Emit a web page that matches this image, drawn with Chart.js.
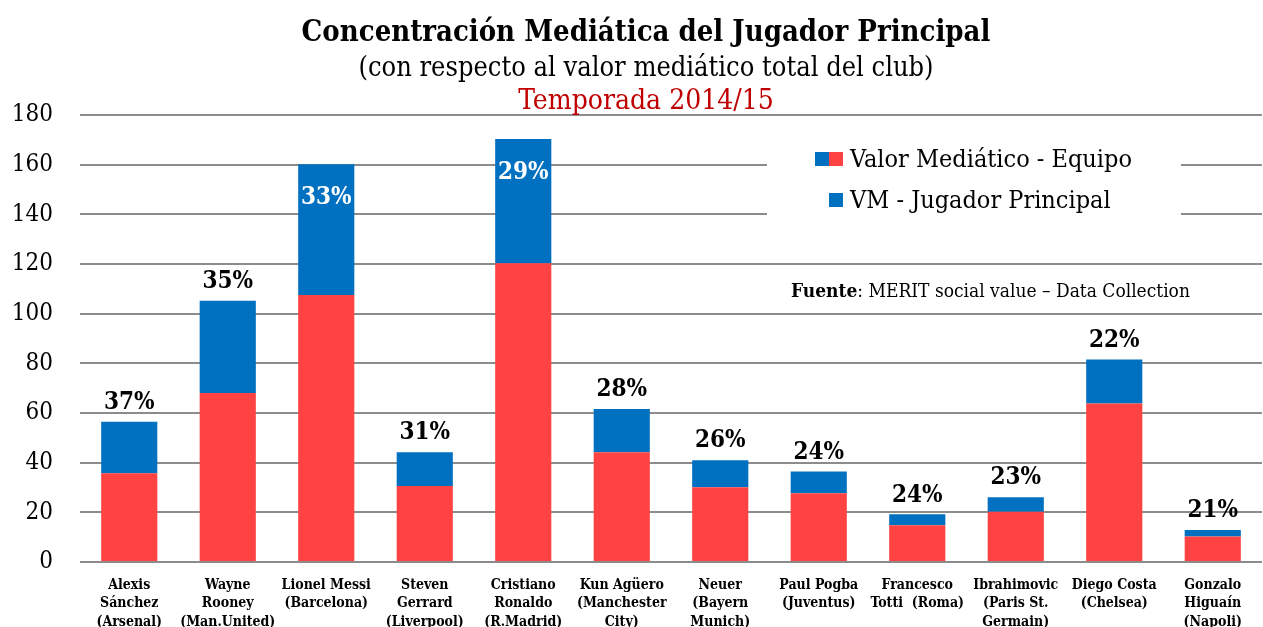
<!DOCTYPE html>
<html>
<head>
<meta charset="utf-8">
<script src="https://cdn.jsdelivr.net/npm/chart.js@4.4.0/dist/chart.umd.min.js"></script>
<style>
  body { margin: 0; background: #fff; }
</style>
</head>
<body>
<canvas id="chart" width="1263" height="627"></canvas>
<script>
// Data
const players = [
    ['Alexis', 'Sánchez', '(Arsenal)'],
    ['Wayne', 'Rooney', '(Man.United)'],
    ['Lionel Messi', '(Barcelona)'],
    ['Steven', 'Gerrard', '(Liverpool)'],
    ['Cristiano', 'Ronaldo', '(R.Madrid)'],
    ['Kun Agüero', '(Manchester', 'City)'],
    ['Neuer', '(Bayern', 'Munich)'],
    ['Paul Pogba', '(Juventus)'],
    ['Francesco', 'Totti  (Roma)'],
    ['Ibrahimovic', '(Paris St.', 'Germain)'],
    ['Diego Costa', '(Chelsea)'],
    ['Gonzalo', 'Higuaín', '(Napoli)']
];
const equipo = [35.7, 68.1, 107.5, 30.6, 120.3, 44.2, 30.1, 27.7, 14.8, 20.2, 63.8, 10.3];
const jugador = [20.8, 37.1, 52.7, 13.6, 50.0, 17.4, 10.9, 8.7, 4.4, 5.9, 17.7, 2.6];
const shares = ['37%', '35%', '33%', '31%', '29%', '28%', '26%', '24%', '24%', '23%', '22%', '21%'];
const seriesNames = ['Valor Mediático - Equipo', 'VM - Jugador Principal'];
const yMax = 180;
const yStep = 20;

const SERIF = "'DejaVu Serif Condensed', 'DejaVu Serif', serif";
const RED = '#FF4343';
const BLUE = '#0070C0';

// Titles on top (three lines, last one in red)
const titlesPlugin = {
    id: 'titles',
    afterDraw(chart) {
        const ctx = chart.ctx;
        const cx = 646;
        ctx.save();
        ctx.textAlign = 'center';
        ctx.textBaseline = 'alphabetic';
        ctx.fillStyle = '#000';
        ctx.font = 'bold 29px ' + SERIF;
        ctx.fillText('Concentración Mediática del Jugador Principal', cx, 41);
        ctx.font = '27px ' + SERIF;
        ctx.fillText('(con respecto al valor mediático total del club)', cx, 76);
        ctx.fillStyle = '#C00000';
        ctx.font = '28px ' + SERIF;
        ctx.fillText('Temporada 2014/15', cx, 109);
        ctx.restore();
    }
};

// Legend box inside the plot, plus the source note
const legendPlugin = {
    id: 'legendBox',
    afterDraw(chart) {
        const ctx = chart.ctx;
        ctx.save();
        ctx.fillStyle = '#fff';
        ctx.fillRect(767, 135, 414, 100);

        // first entry: two-colour swatch
        ctx.fillStyle = BLUE;
        ctx.fillRect(815, 152, 14, 14);
        ctx.fillStyle = RED;
        ctx.fillRect(829, 152, 14, 14);
        // second entry
        ctx.fillStyle = BLUE;
        ctx.fillRect(829, 193, 14, 14);

        ctx.fillStyle = '#000';
        ctx.font = '25px ' + SERIF;
        ctx.textAlign = 'left';
        ctx.textBaseline = 'middle';
        ctx.fillText(chart.data.datasets[0].label, 850, 160);
        ctx.fillText(chart.data.datasets[1].label, 850, 201);

        // source note
        ctx.font = 'bold 19px ' + SERIF;
        const bold = 'Fuente';
        ctx.fillText(bold, 791, 292);
        const w = ctx.measureText(bold).width;
        ctx.font = '19px ' + SERIF;
        ctx.fillText(': MERIT social value \u2013 Data Collection', 791 + w, 292);
        ctx.restore();
    }
};

// Percentage labels over (or inside) each stack
const sharePlugin = {
    id: 'shares',
    afterDatasetsDraw(chart) {
        const ctx = chart.ctx;
        const meta = chart.getDatasetMeta(1);
        ctx.save();
        ctx.font = 'bold 24px ' + SERIF;
        ctx.textAlign = 'center';
        ctx.textBaseline = 'middle';
        meta.data.forEach((bar, i) => {
            const total = equipo[i] + jugador[i];
            if (total > 140) {
                ctx.fillStyle = '#fff';
                ctx.fillText(shares[i], bar.x, bar.y + 34);
            } else {
                ctx.fillStyle = '#000';
                ctx.fillText(shares[i], bar.x, bar.y - 19);
            }
        });
        ctx.restore();
    }
};

const ctx = document.getElementById('chart').getContext('2d');
new Chart(ctx, {
    type: 'bar',
    data: {
        labels: players,
        datasets: [
            {
                label: seriesNames[0],
                data: equipo,
                backgroundColor: RED,
                borderWidth: 0,
                barPercentage: 0.57,
                categoryPercentage: 1
            },
            {
                label: seriesNames[1],
                data: jugador,
                backgroundColor: BLUE,
                borderWidth: 0,
                barPercentage: 0.57,
                categoryPercentage: 1
            }
        ]
    },
    options: {
        responsive: false,
        animation: false,
        layout: { padding: { top: 115, right: 1, left: 0, bottom: 0 } },
        plugins: {
            legend: { display: false },
            title: { display: false },
            tooltip: { enabled: false }
        },
        scales: {
            x: {
                stacked: true,
                grid: { display: false },
                border: { display: false },
                ticks: {
                    color: '#000',
                    font: { family: SERIF, size: 14, weight: 'bold', lineHeight: 1.32 },
                    maxRotation: 0,
                    autoSkip: false,
                    padding: 6
                },
                afterFit(scale) { scale.height = 65; }
            },
            y: {
                stacked: true,
                min: 0,
                max: yMax,
                grid: { color: '#8c8c8c', lineWidth: 2, drawTicks: false },
                border: { display: false },
                ticks: {
                    stepSize: yStep,
                    color: '#000',
                    font: { family: SERIF, size: 24 },
                    padding: 27
                },
                afterFit(scale) { scale.width = 80; }
            }
        }
    },
    plugins: [titlesPlugin, legendPlugin, sharePlugin]
});
</script>
</body>
</html>
